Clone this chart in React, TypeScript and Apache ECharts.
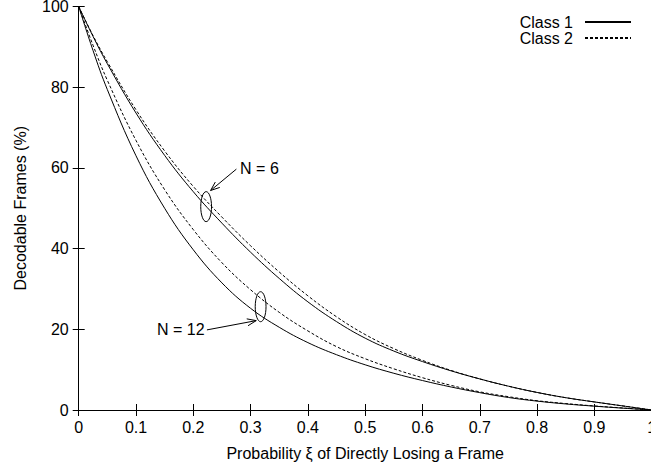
import React, { useEffect, useRef } from "react";
import * as echarts from "echarts";

// Probability xi of directly losing a frame
const xi = [0, 0.025, 0.05, 0.1, 0.15, 0.2, 0.25, 0.3, 0.35, 0.4, 0.45, 0.5, 0.55, 0.6, 0.65, 0.7, 0.75, 0.8, 0.85, 0.9, 0.95, 1];

// Decodable frames (%)
const n6Class1 = [100, 92.6, 85.8, 73.6, 63.1, 54.1, 46.3, 39.1, 32.6, 26.8, 21.9, 17.8, 14.6, 12.0, 9.7, 7.7, 5.9, 4.35, 3.05, 2.0, 1.0, 0];
const n6Class2 = [100, 92.8, 86.3, 74.4, 64.2, 55.4, 47.8, 40.7, 34.2, 28.3, 23.1, 18.7, 15.2, 12.3, 9.8, 7.7, 5.9, 4.35, 3.05, 2.0, 1.0, 0];
const n12Class1 = [100, 89.1, 79.4, 63.0, 50.0, 39.7, 31.5, 25.2, 20.5, 16.7, 13.7, 11.2, 9.1, 7.3, 5.7, 4.3, 3.1, 2.2, 1.5, 0.95, 0.45, 0];
const n12Class2 = [100, 90.4, 81.7, 66.8, 54.6, 44.7, 36.5, 29.8, 24.2, 19.6, 15.7, 12.7, 10.2, 8.0, 6.1, 4.5, 3.3, 2.3, 1.6, 1.0, 0.5, 0];

const legendNames = ["Class 1", "Class 2"];
const xTitle = "Probability \u03be of Directly Losing a Frame";
const yTitle = "Decodable Frames (%)";

// Annotations (data coordinates)
const annN6 = { label: "N = 6", ellipse: [0.2224, 50.4], textAt: [0.2817, 59.9], arrowFrom: [0.2752, 59.7], arrowTo: [0.2302, 54.4], align: "left" };
const annN12 = { label: "N = 12", ellipse: [0.3175, 25.6], textAt: [0.2198, 20.0], arrowFrom: [0.2238, 19.85], arrowTo: [0.3098, 22.15], align: "right" };

const FONT = "'Liberation Sans', Arial, Helvetica, sans-serif";

export default function App() {
  const ref = useRef<HTMLDivElement>(null);

  useEffect(() => {
    const chart = echarts.init(ref.current!, null, { renderer: "svg" });
    const black = "#000";
    const axisLine = { show: true, lineStyle: { color: black, width: 1 } };
    const tick = { show: true, inside: true, length: 6, lineStyle: { color: black, width: 1 } };

    const mk = (name: string, ys: number[], dashed: boolean) => ({
      type: "line",
      name,
      data: xi.map((x, i) => [x, ys[i]]),
      symbol: "none",
      showSymbol: false,
      smooth: 0.4,
      lineStyle: { color: black, width: 1, type: dashed ? [3, 2] : "solid" },
      itemStyle: { color: black },
      xAxisIndex: 0,
      yAxisIndex: 0,
    });

    chart.setOption({
      animation: false,
      textStyle: { fontFamily: FONT },
      grid: { left: 78.7, top: 6.5, width: 573, height: 403.5, outerBoundsMode: "none", containLabel: false },
      legend: {
        data: legendNames,
        orient: "vertical",
        right: 14,
        top: 9,
        align: "right",
        itemWidth: 46,
        itemHeight: 14,
        itemGap: 0,
        itemStyle: { opacity: 0, borderWidth: 0 },
        textStyle: { fontSize: 16, color: black, fontFamily: FONT, padding: [0, 7, 0, 0] },
      },
      xAxis: [
        {
          type: "value",
          min: 0,
          max: 1,
          interval: 0.1,
          position: "bottom",
          name: xTitle,
          nameLocation: "middle",
          nameGap: 35,
          nameTextStyle: { fontSize: 16, color: black, fontFamily: FONT },
          axisLine,
          axisTick: tick,
          axisLabel: {
            margin: 9,
            color: black,
            fontSize: 16,
            fontFamily: FONT,
            formatter: (v: number) => String(+v.toFixed(1)),
          },
          splitLine: { show: false },
        },
        {
          type: "value",
          min: 0,
          max: 1,
          interval: 0.1,
          position: "top",
          axisLine,
          axisTick: tick,
          axisLabel: { show: false },
          splitLine: { show: false },
        },
      ],
      yAxis: [
        {
          type: "value",
          min: 0,
          max: 100,
          interval: 20,
          position: "left",
          name: yTitle,
          nameLocation: "middle",
          nameGap: 50,
          nameRotate: 90,
          nameTextStyle: { fontSize: 16, color: black, fontFamily: FONT },
          axisLine,
          axisTick: tick,
          axisLabel: { margin: 10, color: black, fontSize: 16, lineHeight: 13, fontFamily: FONT },
          splitLine: { show: false },
        },
        {
          type: "value",
          min: 0,
          max: 100,
          interval: 20,
          position: "right",
          axisLine,
          axisTick: tick,
          axisLabel: { show: false },
          splitLine: { show: false },
        },
      ],
      series: [
        mk("Class 1", n6Class1, false),
        mk("Class 2", n6Class2, true),
        mk("Class 1", n12Class1, false),
        mk("Class 2", n12Class2, true),
      ],
    });

    const px = (p: number[]) => chart.convertToPixel({ xAxisIndex: 0, yAxisIndex: 0 }, p) as number[];
    const graphics: any[] = [];
    [annN6, annN12].forEach((a) => {
      const c = px(a.ellipse);
      graphics.push({
        type: "ellipse",
        shape: { cx: c[0], cy: c[1], rx: 5.4, ry: 15 },
        style: { fill: "none", stroke: black, lineWidth: 1 },
        z: 10,
      });
      const t = px(a.textAt);
      graphics.push({
        type: "text",
        x: t[0],
        y: t[1],
        style: { text: a.label, fontSize: 16, fontFamily: FONT, fill: black, align: a.align, verticalAlign: "middle" },
        z: 10,
      });
      const s = px(a.arrowFrom);
      const e = px(a.arrowTo);
      const dx = e[0] - s[0];
      const dy = e[1] - s[1];
      const len = Math.hypot(dx, dy);
      const ux = dx / len;
      const uy = dy / len;
      const L = 9;
      const W = 3.5;
      graphics.push({
        type: "line",
        shape: { x1: s[0], y1: s[1], x2: e[0], y2: e[1] },
        style: { stroke: black, lineWidth: 1 },
        z: 10,
      });
      graphics.push({
        type: "polyline",
        shape: {
          points: [
            [e[0] - L * ux - W * uy, e[1] - L * uy + W * ux],
            [e[0], e[1]],
            [e[0] - L * ux + W * uy, e[1] - L * uy - W * ux],
          ],
        },
        style: { stroke: black, lineWidth: 1, fill: "none" },
        z: 10,
      });
    });
    chart.setOption({ graphic: graphics });

    return () => chart.dispose();
  }, []);

  return (
    <div
      ref={ref}
      style={{ position: "fixed", left: 0, top: 0, width: 651, height: 470, background: "#fff", overflow: "hidden" }}
    />
  );
}
